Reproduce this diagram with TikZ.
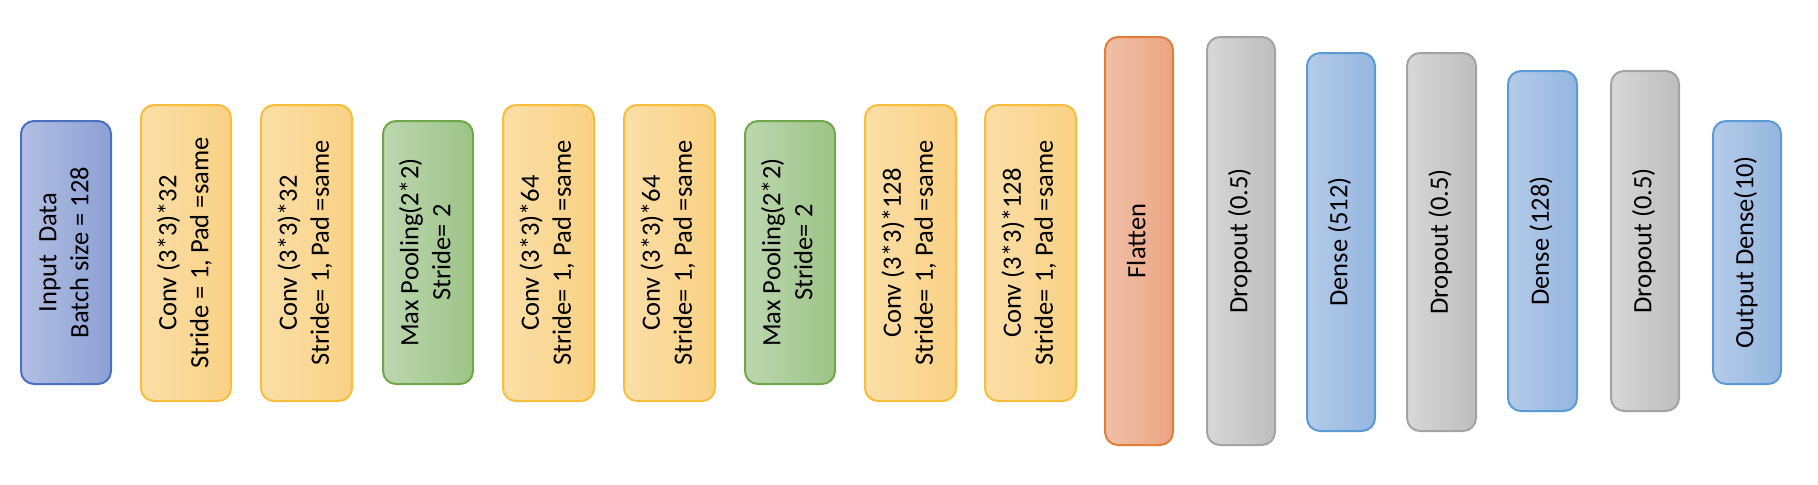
\documentclass[tikz,border=0pt]{standalone}
\usepackage{fontspec}
\setmainfont{Carlito}
\definecolor{inpL}{HTML}{B3BFE3}\definecolor{inpR}{HTML}{8BA0D4}\definecolor{inpD}{HTML}{4A70C0}
\definecolor{convL}{HTML}{FBDFA8}\definecolor{convR}{HTML}{F9D184}\definecolor{convD}{HTML}{F6BE3C}
\definecolor{poolL}{HTML}{BDD7B0}\definecolor{poolR}{HTML}{9DC387}\definecolor{poolD}{HTML}{71A74B}
\definecolor{flatL}{HTML}{F0C0A8}\definecolor{flatR}{HTML}{EBA482}\definecolor{flatD}{HTML}{E37D3A}
\definecolor{dropL}{HTML}{D8D8D8}\definecolor{dropR}{HTML}{BDBDBD}\definecolor{dropD}{HTML}{A3A3A3}
\definecolor{denseL}{HTML}{B5CBE9}\definecolor{denseR}{HTML}{94B6DF}\definecolor{denseD}{HTML}{5B9AD4}
\newcommand{\vtxt}[1]{\rotatebox{90}{\begin{tabular}{@{}c@{}}#1\end{tabular}}}
\newcommand{\layerbox}[7]{% name, style, x1, x2, y1, y2, text
  \node[layer,#2,minimum width={(#4-#3)*0.5pt},minimum height={(#6-#5)*0.5pt}]
    (#1) at ({(#3+#4)/2},{(#5+#6)/2}) {\vtxt{#7}};}
\begin{document}
\begin{tikzpicture}[x=0.5pt,y=-0.5pt,
  layer/.style={rectangle,rounded corners=6.5pt,line width=1pt,inner sep=0pt,
    font=\fontsize{13.25}{15.9}\selectfont},
  inp/.style={draw=inpD,left color=inpL,right color=inpR},
  conv/.style={draw=convD,left color=convL,right color=convR},
  pool/.style={draw=poolD,left color=poolL,right color=poolR},
  flat/.style={draw=flatD,left color=flatL,right color=flatR},
  drop/.style={draw=dropD,left color=dropL,right color=dropR},
  dense/.style={draw=denseD,left color=denseL,right color=denseR}]
\useasboundingbox (0,0) rectangle (1818,484);
\layerbox{in}{inp}{21}{111}{121}{384}{Input~ Data\\Batch size = 128}
\layerbox{c1}{conv}{141}{231}{105}{401}{Conv (3*3)*32\\Stride = 1, Pad =same}
\layerbox{c2}{conv}{261}{352}{105}{401}{Conv (3*3)*32\\Stride= 1, Pad =same}
\layerbox{p1}{pool}{383}{473}{121}{384}{Max Pooling(2*2)\\Stride= 2}
\layerbox{c3}{conv}{503}{594}{105}{401}{Conv (3*3)*64\\Stride= 1, Pad =same}
\layerbox{c4}{conv}{624}{715}{105}{401}{Conv (3*3)*64\\Stride= 1, Pad =same}
\layerbox{p2}{pool}{745}{835}{121}{384}{Max Pooling(2*2)\\Stride= 2}
\layerbox{c5}{conv}{865}{956}{105}{401}{Conv (3*3)*128\\Stride= 1, Pad =same}
\layerbox{c6}{conv}{985}{1076}{105}{401}{Conv (3*3)*128\\Stride= 1, Pad =same}
\layerbox{fl}{flat}{1105}{1173}{37}{445}{Flatten}
\layerbox{d1}{drop}{1207}{1275}{37}{445}{Dropout (0.5)}
\layerbox{de1}{dense}{1307}{1375}{53}{431}{Dense (512)}
\layerbox{d2}{drop}{1407}{1476}{53}{431}{Dropout (0.5)}
\layerbox{de2}{dense}{1508}{1577}{71}{411}{Dense (128)}
\layerbox{d3}{drop}{1611}{1679}{71}{411}{Dropout (0.5)}
\layerbox{out}{dense}{1713}{1781}{121}{384}{Output Dense(10)}
\end{tikzpicture}
\end{document}
